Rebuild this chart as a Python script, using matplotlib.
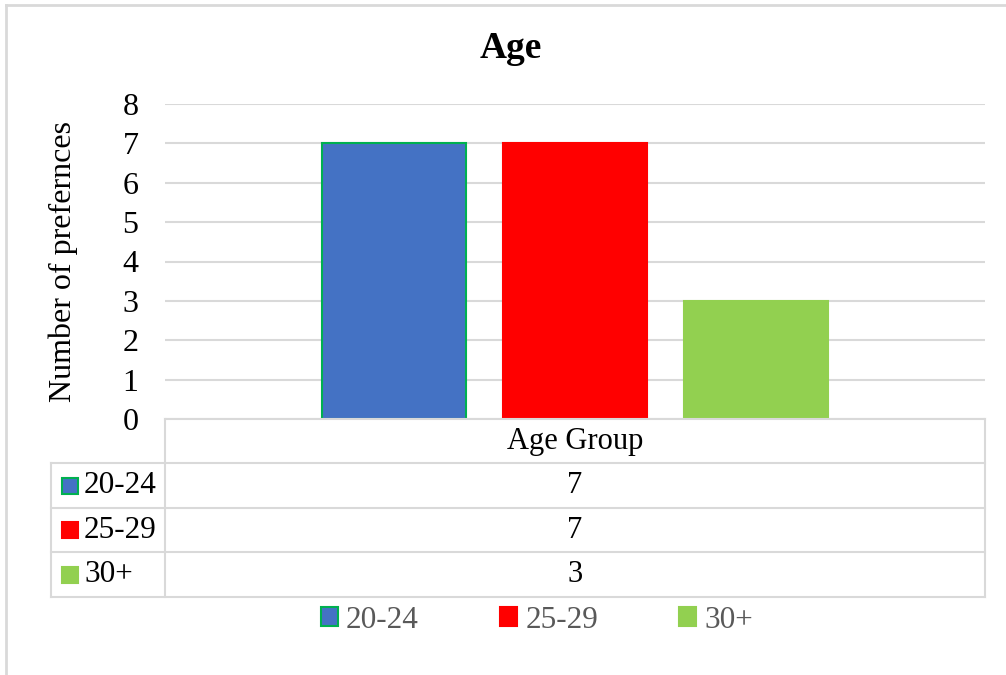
import matplotlib.pyplot as plt
from matplotlib.patches import Rectangle, Patch
from matplotlib.lines import Line2D
from matplotlib.transforms import blended_transform_factory

plt.rcParams["font.family"] = ["Liberation Serif", "DejaVu Serif"]

category = "Age Group"
series = ["20-24", "25-29", "30+"]
counts = [7, 7, 3]
colors = ["#4472C4", "#FF0000", "#92D050"]
edges = ["#00B050", "#FF0000", "#92D050"]
yticks = list(range(0, 9))

W, H = 1006, 675
GRID = "#D9D9D9"


def fx(x):
    return x / W


def fy(y):
    return 1 - y / H


fig = plt.figure(figsize=(W / 100, H / 100), dpi=100)
ax = fig.add_axes([fx(165), fy(419), fx(985) - fx(165), fy(104) - fy(419)])

# clustered bars for the single category
bar_w = 0.1756
step = 0.2213
for i, (name, val) in enumerate(zip(series, counts)):
    ax.bar((i - 1) * step, val, width=bar_w, color=colors[i],
           edgecolor=edges[i], linewidth=1.5, zorder=3)

ax.set_xlim(-0.5, 0.5)
ax.set_ylim(0, 8)
ax.set_yticks(yticks)
ax.set_xticks([])
ax.yaxis.grid(True, color=GRID, linewidth=1.5, zorder=0)
ax.tick_params(axis="y", length=0, pad=19, labelsize=23)
for s in ax.spines.values():
    s.set_visible(False)
ax.set_ylabel("Number of prefernces", fontsize=23, labelpad=32)

fig.text(fx(511), fy(48), "Age", ha="center", va="center",
         fontsize=27, fontweight="bold")

# data table under the plot
rows = [419, 463, 508, 552, 597]
for k, y in enumerate(rows):
    x0 = 165 if k == 0 else 51
    fig.add_artist(Line2D([fx(x0), fx(985)], [fy(y), fy(y)],
                          color=GRID, linewidth=1.5))
for x, y0 in [(165, 419), (985, 419), (51, 463)]:
    fig.add_artist(Line2D([fx(x), fx(x)], [fy(y0), fy(597)],
                          color=GRID, linewidth=1.5))

tr = blended_transform_factory(ax.transData, fig.transFigure)
fig.text(0, fy((rows[0] + rows[1]) / 2), category, transform=tr,
         ha="center", va="center", fontsize=22)
for i, (name, val) in enumerate(zip(series, counts)):
    yc = (rows[i + 1] + rows[i + 2]) / 2
    fig.text(0, fy(yc), str(val), transform=tr,
             ha="center", va="center", fontsize=22)
    fig.add_artist(Rectangle((fx(62), fy(yc + 8)), fx(16), 16 / H,
                             facecolor=colors[i], edgecolor=edges[i],
                             linewidth=1.5))
    fig.text(fx(84), fy(yc), name, ha="left", va="center", fontsize=22.5)

# legend
handles = [Patch(facecolor=colors[i], edgecolor=edges[i], linewidth=1.5)
           for i in range(len(series))]
fig.legend(handles, series, loc="center", bbox_to_anchor=(fx(537), fy(620)),
           ncol=3, frameon=False, fontsize=22.5, labelcolor="#595959",
           handlelength=0.55, handleheight=0.55, handletextpad=0.25,
           columnspacing=2.6, borderpad=0)

# chart frame
fig.add_artist(Line2D([fx(6), fx(6)], [fy(5), 0], color=GRID, linewidth=2))
fig.add_artist(Line2D([fx(6), 1], [fy(5), fy(5)], color=GRID, linewidth=2))

fig.savefig("out.png", dpi=100)
